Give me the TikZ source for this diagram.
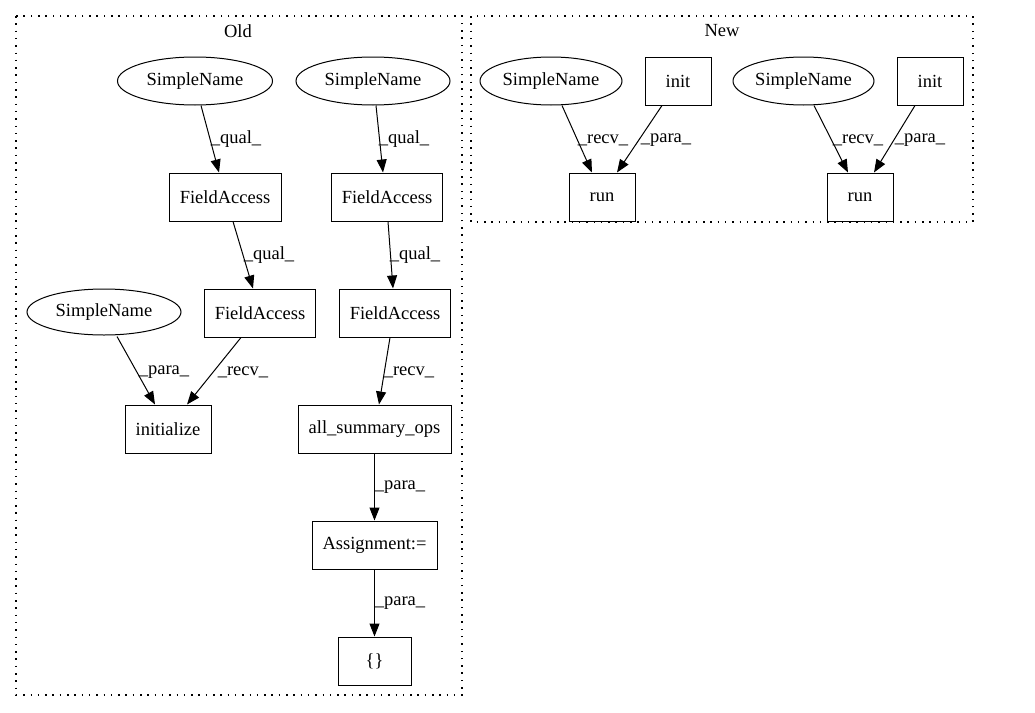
\documentclass[tikz,border=0pt]{standalone}
\usepackage{fontspec}
\setmainfont{Liberation Serif}
\usetikzlibrary{arrows.meta,shapes.geometric,calc}
\begin{document}
\begin{tikzpicture}[x=1pt,y=-1pt,
  every node/.style={font=\fontsize{18.5}{20}\selectfont, inner sep=0pt},
  boxn/.style={draw, line width=1pt, rectangle, minimum height=48pt},
  elln/.style={draw, line width=1pt, ellipse, minimum height=48pt},
  edge/.style={line width=1pt, -{Triangle[length=13pt,width=10pt]}},
  cluster/.style={line width=1.3pt, dash pattern=on 1.5pt off 5.8pt},
  lbl/.style={font=\fontsize{18.5}{20}\selectfont}]
\useasboundingbox (0,0) rectangle (1035,712);
% clusters
\draw[cluster] (16,16) rectangle (462,695);
\node (oldt) at (238,31) {Old};
\draw[cluster] (471,16) rectangle (973,222);
\node (newt) at (722,31) {New};
% Old nodes
\node[elln, minimum width=155pt] (sn1) at (195,81) {SimpleName};
\node[elln, minimum width=154pt] (sn2) at (373,81) {SimpleName};
\node[boxn, minimum width=112pt] (fa1) at (225,197) {FieldAccess};
\node[boxn, minimum width=111pt] (fa2) at (387,197) {FieldAccess};
\node[boxn, minimum width=111pt] (fa3) at (260,313) {FieldAccess};
\node[boxn, minimum width=111pt] (fa4) at (395,313) {FieldAccess};
\node[elln, minimum width=154pt, minimum height=46pt] (sn3) at (104,312) {SimpleName};
\node[boxn, minimum width=86pt] (ini) at (168,429) {initialize};
\node[boxn, minimum width=153pt] (aso) at (374.5,429) {all\_summary\_ops};
\node[boxn, minimum width=125pt] (asg) at (374.5,545) {Assignment:=};
\node[boxn, minimum width=73pt] (br) at (374.5,661) {\{\}};
% New nodes
\node[elln, minimum width=142pt] (sn4) at (551,81) {SimpleName};
\node[boxn, minimum width=66pt] (it1) at (678,81) {init};
\node[elln, minimum width=141pt] (sn5) at (803.5,81) {SimpleName};
\node[boxn, minimum width=66pt] (it2) at (930,81) {init};
\node[boxn, minimum width=66pt] (run1) at (602,197) {run};
\node[boxn, minimum width=66pt] (run2) at (860,197) {run};
% edges Old
\draw[edge] ([xshift=6pt]sn1.south) -- ([xshift=-6pt]fa1.north);
\node[lbl] (l1) at (236,139) {\_qual\_};
\draw[edge] ([xshift=3pt]sn2.south) -- ([xshift=-4pt]fa2.north);
\node[lbl] (l2) at (404,139) {\_qual\_};
\draw[edge] ([xshift=8pt]fa1.south) -- ([xshift=-7pt]fa3.north);
\node[lbl] (l3) at (269,255) {\_qual\_};
\draw[edge] ([xshift=1pt]fa2.south) -- ([xshift=-2pt]fa4.north);
\node[lbl] (l4) at (415,255) {\_qual\_};
\draw[edge] ([xshift=13pt,yshift=-1pt]sn3.south) -- ([xshift=-13pt]ini.north);
\node[lbl] (l5) at (164,372) {\_para\_};
\draw[edge] ([xshift=-19pt]fa3.south) -- ([xshift=19pt]ini.north);
\node[lbl] (l6) at (243,372) {\_recv\_};
\draw[edge] ([xshift=-5pt]fa4.south) -- ([xshift=4.5pt]aso.north);
\node[lbl] (l7) at (409,372) {\_recv\_};
\draw[edge] (aso.south) -- (asg.north);
\node[lbl] (l8) at (400,487) {\_para\_};
\draw[edge] (asg.south) -- (br.north);
\node[lbl] (l9) at (400,603) {\_para\_};
% edges New
\draw[edge] ([xshift=11pt]sn4.south) -- ([xshift=-10pt]run1.north);
\node[lbl] (l10) at (603,140) {\_recv\_};
\draw[edge] ([xshift=-16pt]it1.south) -- ([xshift=15pt]run1.north);
\node[lbl] (l11) at (666,140) {\_para\_};
\draw[edge] ([xshift=10.5pt]sn5.south) -- ([xshift=-12pt]run2.north);
\node[lbl] (l12) at (858,140) {\_recv\_};
\draw[edge] ([xshift=-15pt]it2.south) -- ([xshift=14pt]run2.north);
\node[lbl] (l13) at (920,140) {\_para\_};
\end{tikzpicture}
\end{document}
